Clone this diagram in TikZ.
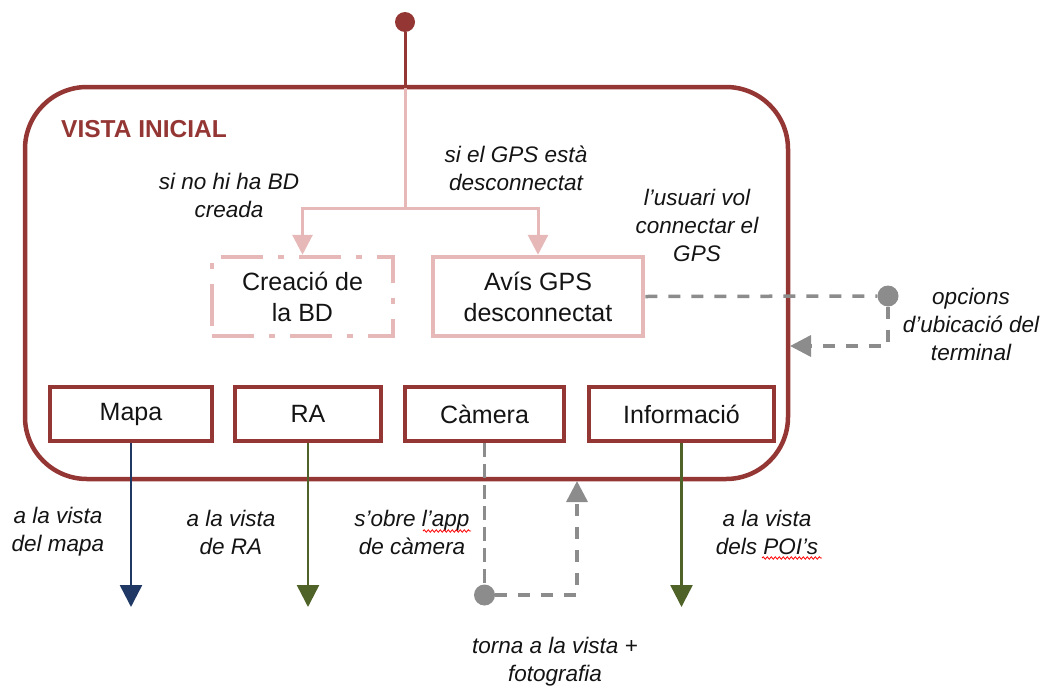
\documentclass[tikz,border=0pt]{standalone}
\usepackage{fontspec}
\setmainfont{Liberation Sans}
\usetikzlibrary{arrows.meta,decorations.pathmorphing}
\definecolor{dkred}{RGB}{148,54,52}
\definecolor{pinkc}{RGB}{230,185,184}
\definecolor{grayc}{RGB}{140,140,140}
\definecolor{navyc}{RGB}{31,56,100}
\definecolor{greenc}{RGB}{79,98,40}
\definecolor{txt}{RGB}{20,20,20}
\tikzset{
  frame/.style={draw=dkred,line width=4.5pt,rounded corners=62pt,minimum width=763pt,minimum height=392pt,inner sep=0pt},
  viewbox/.style={draw=dkred,line width=4.5pt,minimum height=54pt,inner sep=0pt,text=txt,font=\fontsize{25}{30}\selectfont},
  subbox/.style={draw=pinkc,line width=4.5pt,minimum height=79pt,inner sep=0pt,align=center,text=txt,font=\fontsize{25}{31}\selectfont},
  dashdotbox/.style={subbox,dash pattern=on 42pt off 15pt on 6pt off 15pt},
  lbl/.style={inner sep=0pt,align=center,text=txt,font=\fontsize{22.5}{28}\selectfont\itshape},
  startdot/.style={circle,fill=dkred,inner sep=0pt,minimum size=20pt},
  graydot/.style={circle,fill=grayc,inner sep=0pt,minimum size=21pt},
  pinkline/.style={draw=pinkc,line width=3pt},
  pinkarrow/.style={pinkline,-{Triangle[length=20pt,width=20pt]}},
  graydash/.style={draw=grayc,line width=3.5pt,dash pattern=on 12pt off 11pt},
  grayarrow/.style={graydash,-{Triangle[length=21pt,width=21pt]}},
  navyarrow/.style={draw=navyc,line width=2.5pt,-{Triangle[length=22pt,width=22pt]}},
  greenarrow/.style={draw=greenc,line width=2.5pt,-{Triangle[length=22pt,width=22pt]}},
  squiggle/.style={draw=red,line width=0.8pt,decorate,decoration={snake,amplitude=1.2pt,segment length=4pt}}
}
\begin{document}
\begin{tikzpicture}[x=1pt,y=-1pt]
\useasboundingbox (0,0) rectangle (1047,691);

% outer state frame
\node[frame] (vista) at (406.5,283) {};
\node[anchor=west,inner sep=0pt,text=dkred,font=\fontsize{24.5}{28}\selectfont\bfseries] (title) at (61,129) {VISTA INICIAL};

% initial point and fork
\node[startdot] (start) at (405,22) {};
\coordinate (top) at (405,88);
\coordinate (fork) at (405,208);

% conditional sub-views
\node[dashdotbox,minimum width=181pt] (creacio) at (302.5,296.5) {Creació de\\la BD};
\node[subbox,minimum width=210pt] (avis) at (538,296.5) {Avís GPS\\desconnectat};

\draw[draw=dkred,line width=3pt] (start) -- (top);
\draw[pinkline] (top) -- (fork);
\draw[pinkarrow] (fork) -| (creacio.north);
\draw[pinkarrow] (fork) -| (avis.north);

\node[lbl] (lblbd) at (229,195) {si no hi ha BD\\creada};
\node[lbl] (lblgps) at (516,168.5) {si el GPS està\\desconnectat};
\node[lbl] (lblvol) at (697,225) {l’usuari vol\\connectar el\\GPS};

% GPS settings round trip
\node[graydot] (gpsdot) at (888,296) {};
\coordinate (gpsin) at (790,346);
\draw[graydash] (avis.east) -- (gpsdot);
\draw[grayarrow] (gpsdot) |- (gpsin);
\node[lbl] (lblopc) at (971,324) {opcions\\d’ubicació del\\terminal};

% menu buttons
\node[viewbox,minimum width=162pt] (mapa) at (131,414) {Mapa};
\node[viewbox,minimum width=146pt] (ra) at (308,414) {RA};
\node[viewbox,minimum width=159pt] (camera) at (484.5,414) {Càmera};
\node[viewbox,minimum width=185pt] (info) at (681.5,414) {Informació};

% exits
\coordinate (mapaout) at (131,607);
\coordinate (raout) at (308,607);
\coordinate (infoout) at (681.5,607);
\draw[navyarrow] (mapa.south) -- (mapaout);
\draw[greenarrow] (ra.south) -- (raout);
\draw[greenarrow] (info.south) -- (infoout);

% camera round trip
\node[graydot] (camdot) at (484.5,595) {};
\coordinate (camin) at (577,481);
\draw[draw=grayc,line width=2.5pt,dash pattern=on 14pt off 7pt] (camera.south) -- (camdot.north);
\draw[grayarrow] (camdot.east) -| (camin);

\node[lbl] (lblmapa) at (58,532) {a la vista\\del mapa};
\node[lbl] (lblra) at (231,532) {a la vista\\de RA};
\node[lbl] (lblcam) at (412,532) {s’obre l’app\\de càmera};
\node[lbl] (lblinfo) at (767,532) {a la vista\\dels POI’s};
\node[lbl] (lbltorna) at (555,662) {torna a la vista +\\fotografia};

% spell-check marks
\coordinate (sq1a) at (423,531);
\coordinate (sq1b) at (471,531);
\coordinate (sq2a) at (762,558);
\coordinate (sq2b) at (822,558);
\draw[squiggle] (sq1a) -- (sq1b);
\draw[squiggle] (sq2a) -- (sq2b);
\end{tikzpicture}
\end{document}
